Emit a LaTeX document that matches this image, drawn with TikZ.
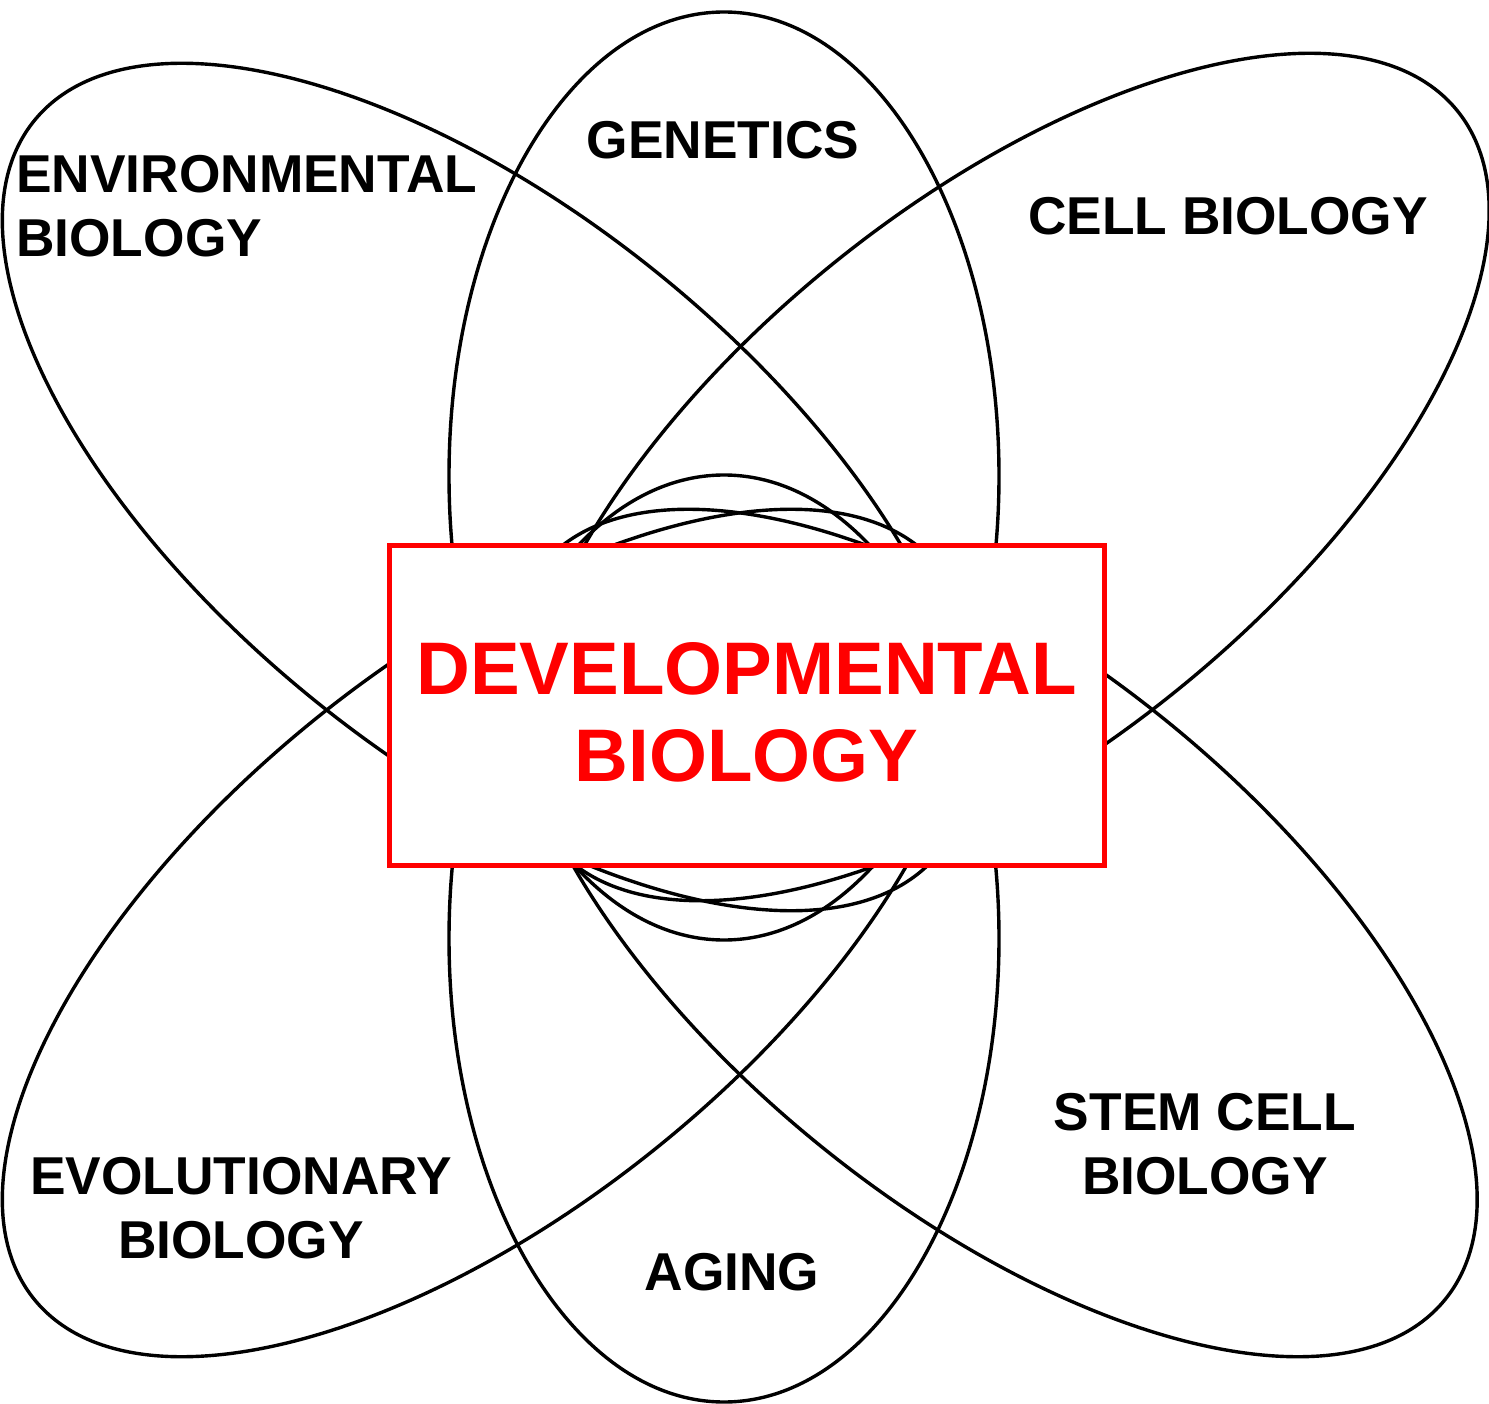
\documentclass[tikz,border=0pt]{standalone}
\usepackage{xcolor}
\usepackage{fontspec}
\setmainfont{Liberation Sans}
\usepackage{tikz}
\tikzset{petal/.style = {draw, line width=3.4pt}}

\begin{document}
\begin{tikzpicture}[x=1pt,y=-1pt,
    field node/.style={font=\fontsize{53.3}{64}\selectfont\bfseries, inner sep=0pt},
    core node/.style={draw=red, line width=5pt, fill=white, text=red, align=center,
        minimum width=715pt, minimum height=320pt, inner sep=0pt,
        font=\fontsize{74.5}{87}\selectfont\bfseries}]
    \useasboundingbox (0,0) rectangle (1489,1404);

    % the two upright ellipses
    \draw[petal] (724,476) ellipse [x radius=275, y radius=464];
    \draw[petal] (724,938.5) ellipse [x radius=275, y radius=463.5];
    % the four slanted ones
    \draw[petal, rotate around={-39:(486.5,487)}] (486.5,487) ellipse [x radius=582, y radius=274];
    \draw[petal, rotate around={39:(1005,477)}] (1005,477) ellipse [x radius=582, y radius=274];
    \draw[petal, rotate around={39:(486.5,933)}] (486.5,933) ellipse [x radius=582, y radius=274];
    \draw[petal, rotate around={-39:(993,933)}] (993,933) ellipse [x radius=582, y radius=274];

    \node[core node] (1) at (746.75,705.75) {\rule{0pt}{66pt}DEVELOPMENTAL\\BIOLOGY};

    \node[field node] (2) at (723,140) {GENETICS};
    \node[field node, align=left, anchor=west] (3) at (16,206.5) {ENVIRONMENTAL\\BIOLOGY};
    \node[field node] (4) at (1228,216) {CELL BIOLOGY};
    \node[field node, align=center] (5) at (241,1208) {EVOLUTIONARY\\BIOLOGY};
    \node[field node, align=center] (6) at (1205,1144) {STEM CELL\\BIOLOGY};
    \node[field node] (7) at (732,1272) {AGING};
\end{tikzpicture}
\end{document}
